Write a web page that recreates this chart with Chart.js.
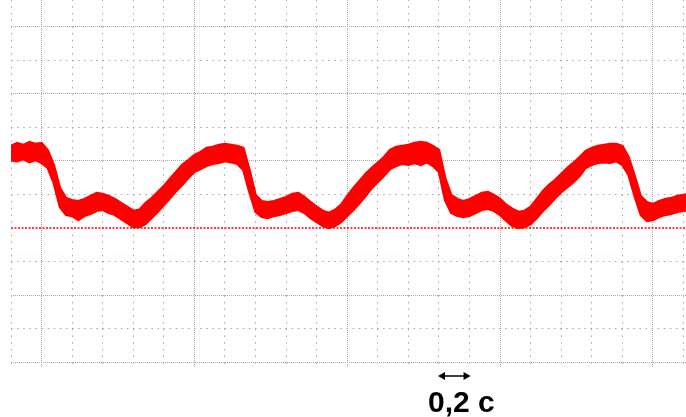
<!DOCTYPE html>
<html>
<head>
<meta charset="utf-8">
<script src="https://cdn.jsdelivr.net/npm/chart.js@4/dist/chart.umd.min.js"></script>
<style>
  html, body { margin: 0; padding: 0; background: #ffffff; }
  #wrap { position: relative; width: 686px; height: 417px; overflow: hidden; }
  #c { position: absolute; left: 0; top: 0; }
  #scaleLabel { position: absolute; left: 428px; top: 387px; font-family: "Liberation Sans", Arial, sans-serif; font-weight: bold; font-size: 30px; line-height: 30px; color: #000; white-space: pre; }
</style>
</head>
<body>
<div id="wrap">
  <canvas id="c" width="686" height="417"></canvas>
  <div id="scaleLabel">0,2 с</div>
</div>
<script>
// Time (s) — sample positions along the trace
const times = [-0.20,-0.16,-0.12,-0.08,-0.04,0.00,0.04,0.08,0.12,0.16,0.20,0.24,0.28,0.32,0.36,0.40,0.44,0.48,0.52,0.56,
  0.60,0.64,0.68,0.72,0.76,0.80,0.84,0.88,0.92,0.96,1.00,1.04,1.08,1.12,1.16,1.20,1.24,1.28,1.32,1.36,
  1.40,1.44,1.48,1.52,1.56,1.60,1.64,1.68,1.72,1.76,1.80,1.84,1.88,1.92,1.96,2.00,2.04,2.08,2.12,2.16,
  2.20,2.24,2.28,2.32,2.36,2.40,2.44,2.48,2.52,2.56,2.60,2.64,2.68,2.72,2.76,2.80,2.84,2.88,2.92,2.96,
  3.00,3.04,3.08,3.12,3.16,3.20,3.24,3.28,3.32,3.36,3.40,3.44,3.48,3.52,3.56,3.60,3.64,3.68,3.72,3.76,
  3.80,3.84,3.88,3.92,3.96,4.00,4.04,4.08,4.12,4.16,4.20,4.24];
// Upper edge of the noisy trace (divisions above the zero line)
const upperEdge = [2.44,2.53,2.47,2.56,2.50,2.53,2.32,1.88,1.19,0.89,0.83,0.80,0.86,0.95,1.04,1.01,0.95,0.86,0.74,0.63,
  0.51,0.54,0.74,0.89,1.07,1.25,1.46,1.67,1.88,2.02,2.17,2.26,2.38,2.41,2.47,2.50,2.47,2.44,2.38,1.73,
  0.98,0.80,0.77,0.80,0.86,0.92,1.01,1.04,0.92,0.77,0.63,0.51,0.45,0.54,0.69,0.95,1.19,1.40,1.61,1.79,
  1.94,2.11,2.32,2.41,2.44,2.47,2.53,2.56,2.53,2.44,2.32,1.49,0.98,0.86,0.80,0.86,0.95,1.04,1.07,0.98,
  0.86,0.69,0.57,0.48,0.51,0.63,0.86,1.10,1.28,1.43,1.61,1.79,1.94,2.11,2.29,2.38,2.44,2.47,2.50,2.50,
  2.44,2.11,1.55,0.95,0.77,0.71,0.80,0.86,0.89,0.95,0.98,1.04];
// Lower edge of the noisy trace (divisions above the zero line)
const lowerEdge = [2.02,1.99,2.05,1.96,2.02,1.94,1.79,1.34,0.63,0.39,0.36,0.24,0.36,0.42,0.51,0.54,0.45,0.39,0.27,0.15,
  0.03,0.03,0.12,0.30,0.48,0.69,0.89,1.10,1.28,1.49,1.67,1.76,1.85,1.91,1.94,1.99,1.96,1.91,1.73,1.07,
  0.48,0.33,0.30,0.36,0.39,0.45,0.51,0.54,0.45,0.30,0.18,0.06,0.00,0.06,0.18,0.36,0.54,0.74,0.95,1.19,
  1.37,1.55,1.76,1.85,1.91,1.88,1.94,1.88,1.96,1.85,1.67,0.83,0.45,0.36,0.33,0.36,0.45,0.54,0.57,0.51,
  0.39,0.21,0.06,0.00,0.03,0.12,0.30,0.51,0.69,0.89,1.07,1.22,1.37,1.55,1.79,1.88,1.94,1.96,1.94,1.99,
  1.88,1.58,0.95,0.39,0.21,0.24,0.33,0.39,0.42,0.48,0.51,0.54];
// Zero reference line
const zeroLineTimes = [-0.2, 4.24];
const zeroLineValues = [0, 0];
// Axis ranges and grid steps
const xRange = [-0.2, 4.216];   // seconds
const yRange = [-4.167, 6.786]; // divisions
const xMinorStep = 0.2, xMajorStep = 1;
const yMinorStep = 1, yMajorStep = 2;

const gridGray = '#a8a8a8';
const red = '#ff0000';

function pts(xs, ys) { return xs.map((x, i) => ({ x: x, y: ys[i] })); }
function isMultiple(v, step) { const r = v / step; return Math.abs(r - Math.round(r)) < 1e-6; }

const arrowPlugin = {
  id: 'scaleArrow',
  afterDraw(chart) {
    const ctx = chart.ctx;
    const xs = chart.scales.x;
    const x1 = xs.getPixelForValue(2.6);
    const x2 = xs.getPixelForValue(2.8);
    const y = chart.chartArea.bottom + 8;
    ctx.save();
    ctx.strokeStyle = '#000';
    ctx.fillStyle = '#000';
    ctx.lineWidth = 1.5;
    ctx.beginPath();
    ctx.moveTo(x1 + 4, y); ctx.lineTo(x2 - 4, y); ctx.stroke();
    ctx.beginPath();
    ctx.moveTo(x1 - 1, y); ctx.lineTo(x1 + 6, y - 4); ctx.lineTo(x1 + 6, y + 4); ctx.closePath(); ctx.fill();
    ctx.beginPath();
    ctx.moveTo(x2 + 1, y); ctx.lineTo(x2 - 6, y - 4); ctx.lineTo(x2 - 6, y + 4); ctx.closePath(); ctx.fill();
    ctx.restore();
  }
};

function axis(axisId, pos, range, step, color, dash, offset) {
  return {
    type: 'linear', axis: axisId, position: pos,
    min: range[0], max: range[1],
    ticks: { display: false, stepSize: step, includeBounds: false },
    grid: { display: true, drawTicks: false, color: color, lineWidth: 1 },
    border: { display: false, dash: dash, dashOffset: offset }
  };
}

new Chart(document.getElementById('c'), {
  type: 'line',
  data: {
    datasets: [
      { label: 'upper', data: pts(times, upperEdge), borderColor: red, backgroundColor: red, borderWidth: 2.5, pointRadius: 0, fill: false, tension: 0 },
      { label: 'lower', data: pts(times, lowerEdge), borderColor: red, backgroundColor: red, borderWidth: 2.5, pointRadius: 0, fill: '-1', tension: 0 },
      { label: 'zero', data: pts(zeroLineTimes, zeroLineValues), borderColor: red, borderWidth: 1.5, borderDash: [2, 1.5], pointRadius: 0, fill: false }
    ]
  },
  options: {
    responsive: false,
    animation: false,
    events: [],
    layout: { padding: { left: 11, right: 0, top: 0, bottom: 49 } },
    plugins: { legend: { display: false }, tooltip: { enabled: false } },
    scales: {
      x: axis('x', 'bottom', xRange, xMinorStep,
        c => isMultiple(c.tick.value, xMajorStep) ? 'rgba(0,0,0,0)' : gridGray, [1.6, 5.12], 0.6),
      x2: axis('x', 'bottom', xRange, xMajorStep, gridGray, [1, 1], 0),
      y: axis('y', 'left', yRange, yMinorStep,
        c => isMultiple(c.tick.value, yMajorStep) ? 'rgba(0,0,0,0)' : gridGray, [1.6, 4.5], 0),
      y2: axis('y', 'left', yRange, yMajorStep,
        c => Math.abs(c.tick.value) < 1e-6 ? 'rgba(0,0,0,0)' : gridGray, [1, 1], 0)
    }
  },
  plugins: [arrowPlugin]
});
</script>
</body>
</html>
